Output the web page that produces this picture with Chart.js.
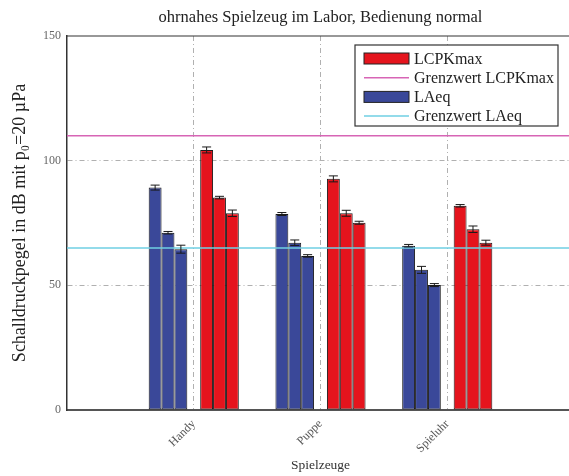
<!DOCTYPE html>
<html lang="de">
<head>
  <meta charset="UTF-8" />
  <title>ohrnahes Spielzeug im Labor</title>
  <script src="https://cdn.jsdelivr.net/npm/chart.js"></script>
  <style>
    html, body { margin: 0; padding: 0; background: #fff; overflow: hidden; }
    #wrap { width: 576px; height: 476px; }
  </style>
</head>
<body>
  <div id="wrap"><canvas id="chart" width="576" height="476"></canvas></div>
  <script>
    // Spielzeuge (categories)
    const toys = ['Handy', 'Puppe', 'Spieluhr'];

    // LAeq, three measurements per toy
    const laeq1 = [89.2, 78.6, 65.9];
    const laeq2 = [71.1, 67.1, 56.2];
    const laeq3 = [64.5, 61.8, 50.1];
    const laeqErr1 = [1.0, 0.6, 0.5];
    const laeqErr2 = [0.5, 1.1, 1.4];
    const laeqErr3 = [1.6, 0.5, 0.6];

    // LCPKmax, three measurements per toy
    const lcpk1 = [104.3, 92.7, 81.9];
    const lcpk2 = [85.2, 78.9, 72.5];
    const lcpk3 = [78.9, 75.1, 67.1];
    const lcpkErr1 = [1.2, 1.2, 0.5];
    const lcpkErr2 = [0.5, 1.2, 1.3];
    const lcpkErr3 = [1.3, 0.6, 1.0];

    // limit values
    const grenzLCPK = 110;
    const grenzLAeq = 65;

    const yTicks = [0, 50, 100, 150];

    const RED = '#e5141d';
    const BLUE = '#3a4899';
    const PINK = '#d765b5';
    const CYAN = '#6fcfe3';
    const SERIF = '"Liberation Serif", "DejaVu Serif", serif';

    // empty slot at each end so the axis runs from 0 to 4
    const labels = ['', ...toys, ''];
    const pad = arr => [null, ...arr, null];

    function barSet(label, data, err, color) {
      return {
        type: 'bar', label: label, data: pad(data), errors: pad(err),
        backgroundColor: color, borderColor: '#1b1b1b', borderWidth: 1,
        borderSkipped: false, order: 1,
        categoryPercentage: 0.711, barPercentage: 1
      };
    }
    function limitSet(label, value, color) {
      return {
        type: 'line', label: label, data: labels.map(() => value),
        borderColor: color, borderWidth: 1.6, pointRadius: 0, order: 0
      };
    }

    const errorBars = {
      id: 'errorBars',
      afterDatasetsDraw(chart) {
        const ctx = chart.ctx;
        const y = chart.scales.y;
        ctx.save();
        ctx.strokeStyle = '#1a1a1a';
        ctx.lineWidth = 1;
        chart.data.datasets.forEach((ds, di) => {
          if (!ds.errors) return;
          const meta = chart.getDatasetMeta(di);
          meta.data.forEach((bar, i) => {
            const v = ds.data[i], e = ds.errors[i];
            if (v == null) return;
            const top = y.getPixelForValue(v + e);
            const bot = y.getPixelForValue(v - e);
            const hw = bar.width * 0.35;
            ctx.beginPath();
            ctx.moveTo(bar.x, top); ctx.lineTo(bar.x, bot);
            ctx.moveTo(bar.x - hw, top); ctx.lineTo(bar.x + hw, top);
            ctx.moveTo(bar.x - hw, bot); ctx.lineTo(bar.x + hw, bot);
            ctx.stroke();
          });
        });
        ctx.restore();
      }
    };

    const frameAndLegend = {
      id: 'frameAndLegend',
      afterDraw(chart) {
        const ctx = chart.ctx;
        const a = chart.chartArea;
        ctx.save();
        // top frame line
        ctx.strokeStyle = '#333';
        ctx.lineWidth = 1.2;
        ctx.beginPath();
        ctx.moveTo(a.left, a.top); ctx.lineTo(a.right, a.top);
        ctx.stroke();

        // legend box
        const bx = a.right - 219, by = a.top + 9, bw = 203, bh = 81;
        ctx.fillStyle = '#fff';
        ctx.fillRect(bx, by, bw, bh);
        ctx.strokeStyle = '#333';
        ctx.lineWidth = 1.2;
        ctx.strokeRect(bx, by, bw, bh);

        const items = [
          { text: 'LCPKmax', box: RED },
          { text: 'Grenzwert LCPKmax', line: PINK },
          { text: 'LAeq', box: BLUE },
          { text: 'Grenzwert LAeq', line: CYAN }
        ];
        ctx.font = '16px ' + SERIF;
        ctx.textBaseline = 'middle';
        items.forEach((it, i) => {
          const ry = by + 13.5 + i * 19.2;
          const sx = bx + 9, sw = 45;
          if (it.box) {
            ctx.fillStyle = it.box;
            ctx.fillRect(sx, ry - 5.5, sw, 11);
            ctx.strokeStyle = '#222';
            ctx.lineWidth = 1;
            ctx.strokeRect(sx, ry - 5.5, sw, 11);
          } else {
            ctx.strokeStyle = it.line;
            ctx.lineWidth = 1.5;
            ctx.beginPath();
            ctx.moveTo(sx, ry); ctx.lineTo(sx + sw, ry);
            ctx.stroke();
          }
          ctx.fillStyle = '#222';
          ctx.fillText(it.text, bx + 59, ry + 1);
        });
        ctx.restore();
      }
    };

    new Chart(document.getElementById('chart'), {
      data: {
        labels: labels,
        datasets: [
          barSet('LAeq', laeq1, laeqErr1, BLUE),
          barSet('LAeq', laeq2, laeqErr2, BLUE),
          barSet('LAeq', laeq3, laeqErr3, BLUE),
          barSet('', labels.map(() => null), labels.map(() => 0), 'rgba(0,0,0,0)'),
          barSet('LCPKmax', lcpk1, lcpkErr1, RED),
          barSet('LCPKmax', lcpk2, lcpkErr2, RED),
          barSet('LCPKmax', lcpk3, lcpkErr3, RED),
          limitSet('Grenzwert LCPKmax', grenzLCPK, PINK),
          limitSet('Grenzwert LAeq', grenzLAeq, CYAN)
        ]
      },
      options: {
        responsive: false,
        animation: false,
        layout: { padding: { left: 0, right: 2, top: 0, bottom: 0 } },
        plugins: {
          legend: { display: false },
          tooltip: { enabled: false },
          title: {
            display: true,
            fullSize: false,
            text: 'ohrnahes Spielzeug im Labor, Bedienung normal',
            color: '#222',
            font: { family: SERIF, size: 16.5, weight: 'normal', lineHeight: 1.2 },
            padding: { top: 8, bottom: 8.2 }
          }
        },
        scales: {
          x: {
            type: 'category',
            offset: false,
            afterFit: s => { s.height = 66; s.paddingLeft = 0; s.paddingRight = 0; },
            grid: {
              offset: false,
              drawTicks: false,
              color: c => (c.index === 0 || c.index === labels.length - 1) ? 'rgba(0,0,0,0)' : '#b0b0b0',
              lineWidth: 1
            },
            border: { display: true, color: '#555', width: 2, dash: [5, 3, 1, 3] },
            ticks: {
              color: '#555',
              font: { family: SERIF, size: 12 },
              minRotation: 45, maxRotation: 45,
              padding: 7,
              autoSkip: false
            },
            title: {
              display: true, text: 'Spielzeuge', color: '#333',
              font: { family: SERIF, size: 13.5 },
              padding: { top: 0, bottom: 2 }
            }
          },
          y: {
            min: 0, max: 150,
            afterFit: s => { s.width = 67; },
            afterBuildTicks: s => { s.ticks = yTicks.map(v => ({ value: v })); },
            grid: {
              drawTicks: false,
              color: c => (c.tick.value === 0 || c.tick.value === 150) ? 'rgba(0,0,0,0)' : '#b0b0b0',
              lineWidth: 1
            },
            border: { display: true, color: '#333', width: 1.5, dash: [5, 3, 1, 3] },
            ticks: {
              color: '#666',
              font: { family: SERIF, size: 12 },
              padding: 6
            },
            title: {
              display: true, text: 'Schalldruckpegel in dB mit p\u2080=20 \u00B5Pa', color: '#222',
              font: { family: SERIF, size: 18 },
              padding: { top: 9, bottom: 0 }
            }
          }
        }
      },
      plugins: [errorBars, frameAndLegend]
    });
  </script>
</body>
</html>
